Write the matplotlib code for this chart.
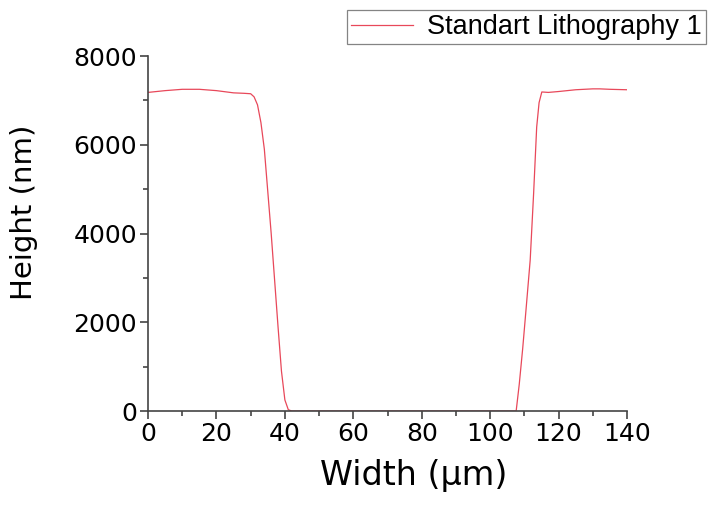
import numpy as np
import matplotlib.pyplot as plt
from matplotlib.ticker import MultipleLocator

# profilometer trace of the lithography step
width_um = [0, 5, 10, 15, 20, 25, 28, 30, 31, 32, 33, 34, 36, 38, 39, 40, 41, 42,
            50, 60, 80, 100, 107, 107.6, 108.5, 109.5, 110.5, 111.7, 112.7, 113.6,
            114.3, 115.1, 117, 120, 125, 130, 132, 135, 140]
height_nm = [7180, 7220, 7250, 7250, 7220, 7170, 7160, 7150, 7080, 6900, 6500, 5900,
             4000, 1900, 900, 250, 30, 0,
             0, 0, 0, 0, 0, 0, 600, 1400, 2300, 3400, 4900, 6400,
             6950, 7190, 7180, 7200, 7240, 7260, 7260, 7250, 7240]

plt.rcParams['font.family'] = ['DejaVu Sans']

fig = plt.figure(figsize=(7.13, 5.07), dpi=100)
ax = fig.add_axes([0.2076, 0.1893, 0.6718, 0.7002])

line, = ax.plot(width_um, height_nm, color='#e8485a', lw=0.9,
                label='Standart Lithography 1')

ax.set_xlim(0, 140)
ax.set_ylim(0, 8000)
ax.xaxis.set_major_locator(MultipleLocator(20))
ax.xaxis.set_minor_locator(MultipleLocator(10))
ax.yaxis.set_major_locator(MultipleLocator(2000))
ax.yaxis.set_minor_locator(MultipleLocator(1000))

for side in ('top', 'right'):
    ax.spines[side].set_visible(False)
for side in ('left', 'bottom'):
    ax.spines[side].set_color('#444444')
    ax.spines[side].set_linewidth(1.2)

ax.tick_params(which='major', direction='out', length=6, width=1.2,
               color='#444444', labelsize=18, pad=2)
ax.tick_params(which='minor', direction='out', length=3.5, width=1.2,
               color='#444444')

ax.set_xlabel('Width (µm)', fontsize=24)
ax.set_ylabel('Height (nm)', fontsize=21)
ax.xaxis.set_label_coords(0.555, -0.135, transform=ax.transAxes)
ax.yaxis.set_label_coords(-0.23, 0.56, transform=ax.transAxes)

leg = fig.legend(handles=[line], loc='upper left',
                 bbox_to_anchor=(347 / 713, 1 - 10 / 507),
                 fancybox=False, frameon=True, borderaxespad=0,
                 handlelength=2.3, handletextpad=0.5, borderpad=0.15,
                 prop={'family': 'Liberation Sans', 'size': 19.5})
leg.get_frame().set_edgecolor('#666666')
leg.get_frame().set_linewidth(0.9)

fig.savefig('out.png', dpi=100)
